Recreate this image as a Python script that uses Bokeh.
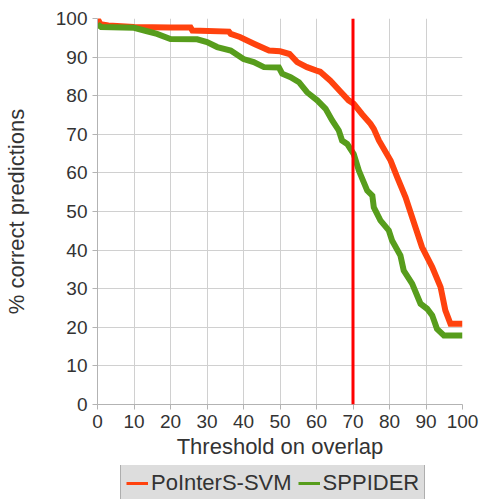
from bokeh.plotting import figure
from bokeh.layouts import column
from bokeh.models import Range1d, FixedTicker, Span, Legend, LegendItem
from bokeh.embed import file_html
from bokeh.resources import INLINE

# ---- data ----
ticks = [0, 10, 20, 30, 40, 50, 60, 70, 80, 90, 100]
threshold_marker = 70

svm_x = [0, 0.8, 3, 10, 20, 25.5, 26, 36, 36.5, 39, 43, 47, 50, 52.6, 54.7, 57.4, 60, 61,
         63.8, 66.6, 68.8, 70.2, 72.5, 74.8, 75.7, 77.1, 80.3, 82.1, 84.4, 86.2, 88.9,
         91.7, 94, 95.3, 96.7, 100]
svm_y = [100, 98.5, 98.2, 97.8, 97.7, 97.7, 96.9, 96.6, 96, 95.2, 93.4, 91.7, 91.5, 90.8,
         88.7, 87.4, 86.5, 86.2, 83.9, 81, 78.8, 77.9, 75.2, 72.7, 71.4, 68.4, 63.2, 58.9,
         53.7, 48.5, 40.8, 35.6, 30.4, 24.4, 20.9, 20.9]

sppider_x = [0, 1, 10, 13.6, 16.3, 20, 27.3, 30, 32.8, 36.5, 40, 42.8, 45.6, 49.7, 50.6,
             52.9, 55.2, 57.4, 60.2, 62.5, 64.3, 66.1, 67, 68.4, 70.2, 71.6, 73.9, 75.3,
             75.7, 77.5, 79.8, 80.7, 83, 83.9, 86.2, 88.5, 90.3, 91.7, 93, 94.9, 100]
sppider_y = [98.5, 97.8, 97.6, 96.7, 96, 94.7, 94.6, 93.9, 92.6, 91.7, 89.5, 88.7, 87.4,
             87.3, 85.7, 84.8, 83.5, 80.9, 78.8, 76.6, 73.6, 71, 68.4, 67.5, 64.9, 60.6,
             55.4, 54.1, 51.1, 47.7, 45.1, 42.5, 38.6, 34.7, 31.3, 26.1, 24.8, 23.1, 19.6,
             17.9, 17.9]

series_names = ["PoInterS-SVM", "SPPIDER"]
series_colors = ["#ff420e", "#579d1c"]

FONT = "Liberation Sans"
TXT = "#333333"

p = figure(width=480, height=465, output_backend="svg", toolbar_location=None,
           x_range=Range1d(0, 100), y_range=Range1d(0, 100),
           min_border_left=97, min_border_right=18, min_border_top=18, min_border_bottom=61)
p.outline_line_color = None
p.background_fill_color = "white"
p.border_fill_color = "white"

for ax in (p.xaxis[0], p.yaxis[0]):
    ax.ticker = FixedTicker(ticks=ticks)
    ax.minor_tick_line_color = None
    ax.major_tick_in = 0
    ax.major_tick_out = 5
    ax.major_tick_line_color = "#b3b3b3"
    ax.axis_line_color = "#b3b3b3"
    ax.major_label_text_font = FONT
    ax.major_label_text_font_size = "19px"
    ax.major_label_text_color = TXT
    ax.axis_label_text_font = FONT
    ax.axis_label_text_font_size = "22px"
    ax.axis_label_text_font_style = "normal"
    ax.axis_label_text_color = TXT
    ax.major_label_standoff = 5

p.xaxis.axis_label = "Threshold on overlap"
p.yaxis.axis_label = "% correct predictions"
p.xaxis.axis_label_standoff = 3
p.yaxis.axis_label_standoff = 24

p.xgrid.ticker = FixedTicker(ticks=ticks)
p.ygrid.ticker = FixedTicker(ticks=ticks)
p.grid.grid_line_color = "#d0d0d0"
p.grid.grid_line_width = 1

p.line(svm_x, svm_y, line_color=series_colors[0], line_width=6, line_join="miter")
p.line(sppider_x, sppider_y, line_color=series_colors[1], line_width=6, line_join="miter")

span = Span(location=threshold_marker, dimension="height", line_color="#ff0000", line_width=3)
p.add_layout(span)

# ---- legend strip below the chart (its frame is aligned with the chart's frame) ----
p2 = figure(width=480, height=34, output_backend="svg", toolbar_location=None,
            x_axis_type=None, y_axis_type=None,
            x_range=Range1d(0, 1), y_range=Range1d(-10, -9),
            min_border=0)
p2.outline_line_color = None
p2.grid.visible = False
p2.background_fill_color = "white"
p2.border_fill_color = "white"

k1 = p2.line(svm_x, svm_y, line_color=series_colors[0], line_width=3)
k2 = p2.line(sppider_x, sppider_y, line_color=series_colors[1], line_width=3)

legend = Legend(items=[LegendItem(label=series_names[0], renderers=[k1]),
                       LegendItem(label=series_names[1], renderers=[k2])],
                orientation="horizontal", location=(23, -3))
legend.label_text_font = FONT
legend.label_text_font_size = "22px"
legend.label_text_color = TXT
legend.label_height = 24
legend.glyph_height = 24
legend.glyph_width = 22
legend.label_standoff = 3
legend.spacing = 6
legend.padding = 5
legend.margin = 0
legend.background_fill_color = "#dddddd"
legend.background_fill_alpha = 1
legend.border_line_color = "#808080"
legend.border_line_width = 1
p2.add_layout(legend, "center")

layout = column(p, p2, spacing=0)
open("out.html", "w").write(file_html(layout, INLINE))
